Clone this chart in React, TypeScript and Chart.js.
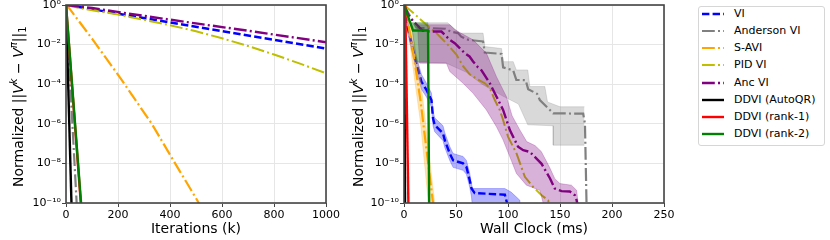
import React, { useEffect, useRef } from "react";
import { Chart, registerables } from "chart.js";

Chart.register(...registerables);

const FONT = '"DejaVu Sans", sans-serif';

// ---------------- axes / ticks ----------------
const yTickExponents = [-10, -8, -6, -4, -2, 0];
const iterationTicks = [0, 200, 400, 600, 800, 1000];
const wallClockTicks = [0, 50, 100, 150, 200, 250];

// ---------------- legend ----------------
const seriesNames = [
  "VI",
  "Anderson VI",
  "S-AVI",
  "PID VI",
  "Anc VI",
  "DDVI (AutoQR)",
  "DDVI (rank-1)",
  "DDVI (rank-2)",
];

// ---------------- left panel: log10(error) vs iterations k ----------------
const iterViK = [0, 50, 200, 400, 600, 800, 1000];
const iterViLog = [0, -0.1, -0.44, -0.88, -1.32, -1.76, -2.2];
const iterAndersonK = [0, 41];
const iterAndersonLog = [0, -10];
const iterSaviK = [0, 10, 100, 214, 330, 413, 511];
const iterSaviLog = [0, -0.12, -1.7, -3.78, -6.0, -7.85, -10];
const iterPidK = [0, 50, 100, 200, 300, 400, 500, 600, 700, 800, 900, 1000];
const iterPidLog = [0, -0.15, -0.27, -0.48, -0.75, -1.02, -1.33, -1.68, -2.07, -2.5, -2.96, -3.45];
const iterAncK = [0, 100, 300, 500, 700, 1000];
const iterAncLog = [0, -0.15, -0.55, -0.93, -1.3, -1.88];
const iterAutoQrK = [0, 21];
const iterAutoQrLog = [0, -10];
const iterRank1K = [0, 57];
const iterRank1Log = [0, -10];
const iterRank2K = [0, 58];
const iterRank2Log = [0, -10];

// ---------------- right panel: log10(error) vs wall clock (ms) ----------------
const clockViMs = [0, 2.3, 7.1, 11.9, 16.7, 21.6, 26.4, 27.9, 29.5, 37.5, 39.2, 44, 47.2, 56.8, 60, 63.2, 64.9, 68, 97, 100.5];
const clockViLog = [0, -0.8, -1.93, -2.94, -3.87, -4.29, -4.8, -5.72, -6.06, -6.48, -6.82, -7.5, -7.84, -8.0, -8.18, -8.85, -9.27, -9.5, -9.58, -10.3];
const clockViHiMs = [0, 2.3, 7.1, 11.9, 16.7, 21.6, 26.4, 27.9, 29.5, 37.5, 39.2, 44, 47.2, 56.8, 60, 63.2, 65.5, 66.5, 97, 103, 111.4, 112];
const clockViHiLog = [0, -0.5, -1.6, -2.6, -3.5, -3.95, -4.45, -5.35, -5.7, -6.1, -6.45, -7.15, -7.5, -7.65, -7.85, -8.5, -9.2, -9.27, -9.27, -9.45, -9.86, -10.3];
const clockViLoMs = [0, 2.3, 7.1, 11.9, 16.7, 21.6, 26.4, 27.9, 29.5, 37.5, 39.2, 44, 47.2, 56.8, 60, 63.2, 64.9, 66, 112];
const clockViLoLog = [0, -1.1, -2.25, -3.3, -4.25, -4.65, -5.15, -6.1, -6.4, -6.85, -7.2, -7.85, -8.2, -8.35, -8.55, -9.2, -9.7, -10.3, -10.3];

const clockAndersonMs = [0, 12, 40, 45, 52, 55, 62, 76, 77.7, 93.8, 95.3, 105, 108, 117, 119.4, 128, 130.6, 140.3, 143.4, 172.3, 174, 175.6];
const clockAndersonLog = [0, -1.15, -1.2, -1.35, -1.42, -1.6, -1.76, -1.84, -2.4, -2.47, -3.15, -3.3, -3.78, -3.8, -4.25, -4.49, -4.8, -5.3, -5.47, -5.49, -6.0, -10.3];
const clockAndersonHiMs = [7, 42, 53.6, 76, 77.7, 93.8, 95.3, 105, 108, 119, 121, 135.4, 138, 150, 173.5];
const clockAndersonHiLog = [-0.9, -0.9, -1.42, -1.42, -2.1, -2.2, -2.86, -2.86, -3.28, -3.28, -4.12, -4.12, -4.9, -5.14, -5.14];
const clockAndersonLoMs = [7, 12, 40.8, 60, 75, 95, 110, 119, 143.4, 143.5, 173.5];
const clockAndersonLoLog = [-0.9, -2.9, -2.94, -3.4, -4.0, -4.6, -5.0, -6.05, -6.1, -7.08, -7.08];

const clockSaviMs = [0, 3, 10.3, 15.8, 27.9, 28.6];
const clockSaviLog = [0, -0.6, -2.9, -4.8, -10, -10.3];
const clockSaviHiMs = [0, 3, 10.3, 15.8, 29.5, 30];
const clockSaviHiLog = [0, -0.3, -2.0, -3.7, -10, -10.3];
const clockSaviLoMs = [0, 3, 10.3, 15.8, 23.5, 24, 30];
const clockSaviLoLog = [0, -0.9, -3.8, -5.9, -10, -10.3, -10.3];

const clockPidMs = [0, 10, 21.6, 31.2, 42, 50.4, 57, 63.2, 69.7, 77.7, 82.5, 87.3, 92.1, 95.3, 100.1, 108.2, 116.2, 124.2, 132.3, 138.6, 140.5];
const clockPidLog = [0, -0.45, -1.0, -1.42, -2.0, -2.5, -3.1, -3.5, -3.72, -3.95, -4.2, -4.8, -5.3, -5.81, -6.66, -7.5, -8.68, -9.19, -9.61, -9.86, -10.3];

const clockAncMs = [0, 5, 18, 24.7, 36, 44, 48.8, 53.6, 58.4, 63, 66.4, 71.2, 74.5, 82.5, 89, 95.3, 101.8, 109.7, 114.6, 121, 125.8, 132.3, 140.3, 145, 151.5, 159.5, 164.3, 166, 167.5];
const clockAncLog = [0, -0.6, -1.3, -1.34, -1.34, -1.76, -1.93, -2.18, -2.43, -2.6, -2.85, -3.15, -3.3, -3.95, -4.63, -5.3, -6.32, -7.16, -7.33, -7.42, -7.67, -8.02, -8.75, -9.27, -9.4, -9.42, -9.61, -9.86, -10.3];
const clockAncHiMs = [13, 44, 48.8, 66.4, 79.2, 88.9, 98.5, 104, 111.3, 118, 126, 132, 140, 145, 150, 161, 166, 167.4, 168];
const clockAncHiLog = [-1.0, -1.0, -1.25, -1.76, -2.43, -3.62, -4.63, -5.6, -6.3, -6.9, -7.1, -7.4, -8.2, -8.77, -9.02, -9.1, -9.36, -10, -10.3];
const clockAncLoMs = [13, 15, 40.8, 44, 56.8, 66.4, 79.2, 88.9, 95.3, 101.8, 108.1, 117.7, 130.6, 133.8, 134.3, 168];
const clockAncLoLog = [-1.0, -2.94, -2.94, -3.36, -3.95, -4.46, -5.3, -6.15, -6.82, -7.67, -8.51, -9.1, -9.36, -10, -10.3, -10.3];

const clockAutoQrMs = [0.2, 1.0];
const clockAutoQrLog = [0, -10.3];
const clockRank1Ms = [1.2, 4.3];
const clockRank1Log = [0, -10.3];
const clockRank2Ms = [0, 8.7, 23.1, 24.2];
const clockRank2Log = [0, -1.29, -1.29, -10.3];
const clockRank2HiMs = [7, 23.1, 24.2];
const clockRank2HiLog = [-0.9, -0.9, -10.3];
const clockRank2LoMs = [7, 12, 23.1, 24.2];
const clockRank2LoLog = [-0.9, -2.86, -2.86, -10.3];

// ---------------- styles ----------------
const DASHED = [7.4, 3.2];
const DASHDOT = [12.8, 3.2, 2, 3.2];
const styles = [
  { color: "#0000ff", dash: DASHED, width: 2.4, band: "rgba(0,0,255,0.3)" },
  { color: "#808080", dash: DASHDOT, width: 2.2, band: "rgba(128,128,128,0.3)" },
  { color: "#ffa500", dash: DASHDOT, width: 2.2, band: "rgba(255,165,0,0.3)" },
  { color: "#bfbf00", dash: DASHDOT, width: 2.0, band: "rgba(191,191,0,0.3)" },
  { color: "#800080", dash: DASHDOT, width: 2.4, band: "rgba(128,0,128,0.3)" },
  { color: "#000000", dash: [] as number[], width: 2.4, band: "rgba(0,0,0,0.3)" },
  { color: "#ff0000", dash: [] as number[], width: 2.4, band: "rgba(255,0,0,0.3)" },
  { color: "#008000", dash: [] as number[], width: 2.4, band: "rgba(0,128,0,0.3)" },
];

const SUP: Record<string, string> = {
  "0": "\u2070", "1": "\u00b9", "2": "\u00b2", "3": "\u00b3", "4": "\u2074",
  "5": "\u2075", "6": "\u2076", "7": "\u2077", "8": "\u2078", "9": "\u2079", "-": "\u207b",
};
const supStr = (n: number) => String(n).split("").map((c) => SUP[c] || c).join("");

function toPoints(xs: number[], logs: number[]) {
  return xs.map((x, i) => ({ x, y: Math.pow(10, logs[i]) }));
}

function addLine(list: any[], xs: number[], logs: number[], s: number) {
  const st = styles[s];
  list.push({
    data: toPoints(xs, logs),
    borderColor: st.color,
    borderWidth: st.width,
    borderDash: st.dash,
    pointRadius: 0,
    fill: false,
    tension: 0,
  });
}

function addBand(list: any[], hx: number[], hl: number[], lx: number[], ll: number[], s: number) {
  const st = styles[s];
  const idx = list.length;
  list.push({
    data: toPoints(hx, hl),
    borderColor: st.band,
    borderWidth: 0.8,
    pointRadius: 0,
    backgroundColor: st.band,
    fill: idx + 1,
    tension: 0,
  });
  list.push({
    data: toPoints(lx, ll),
    borderColor: st.band,
    borderWidth: 0.8,
    pointRadius: 0,
    fill: false,
    tension: 0,
  });
}

function finalize(list: any[]) {
  list.forEach((d, i) => (d.order = list.length - i));
  return list;
}

function leftDatasets() {
  const l: any[] = [];
  addLine(l, iterViK, iterViLog, 0);
  addLine(l, iterAndersonK, iterAndersonLog, 1);
  addLine(l, iterSaviK, iterSaviLog, 2);
  addLine(l, iterPidK, iterPidLog, 3);
  addLine(l, iterAncK, iterAncLog, 4);
  addLine(l, iterAutoQrK, iterAutoQrLog, 5);
  addLine(l, iterRank1K, iterRank1Log, 6);
  addLine(l, iterRank2K, iterRank2Log, 7);
  return finalize(l);
}

function rightDatasets() {
  const l: any[] = [];
  addBand(l, clockViHiMs, clockViHiLog, clockViLoMs, clockViLoLog, 0);
  addLine(l, clockViMs, clockViLog, 0);
  addBand(l, clockAndersonHiMs, clockAndersonHiLog, clockAndersonLoMs, clockAndersonLoLog, 1);
  addLine(l, clockAndersonMs, clockAndersonLog, 1);
  addBand(l, clockSaviHiMs, clockSaviHiLog, clockSaviLoMs, clockSaviLoLog, 2);
  addLine(l, clockSaviMs, clockSaviLog, 2);
  addLine(l, clockPidMs, clockPidLog, 3);
  addBand(l, clockAncHiMs, clockAncHiLog, clockAncLoMs, clockAncLoLog, 4);
  addLine(l, clockAncMs, clockAncLog, 4);
  addLine(l, clockAutoQrMs, clockAutoQrLog, 5);
  addLine(l, clockRank1Ms, clockRank1Log, 6);
  addBand(l, clockRank2HiMs, clockRank2HiLog, clockRank2LoMs, clockRank2LoLog, 7);
  addLine(l, clockRank2Ms, clockRank2Log, 7);
  return finalize(l);
}

function drawYTitle(ctx: CanvasRenderingContext2D, baseX: number, startY: number) {
  const normal = `14px ${FONT}`;
  const italic = `italic 14px ${FONT}`;
  const small = `10px ${FONT}`;
  const smallIt = `italic 10px ${FONT}`;
  const segs = [
    { t: "Normalized ", f: normal, dy: 0 },
    { t: "||", f: normal, dy: 0 },
    { t: "V", f: italic, dy: 0 },
    { t: "k", f: smallIt, dy: -6 },
    { t: " \u2212 ", f: normal, dy: 0 },
    { t: "V", f: italic, dy: 0 },
    { t: "\u03c0", f: smallIt, dy: -6 },
    { t: "||", f: normal, dy: 0 },
    { t: "1", f: small, dy: 3 },
  ];
  ctx.save();
  ctx.translate(baseX, startY);
  ctx.rotate(-Math.PI / 2);
  ctx.fillStyle = "#000";
  ctx.textBaseline = "alphabetic";
  ctx.textAlign = "left";
  let x = 0;
  for (const s of segs) {
    ctx.font = s.f;
    ctx.fillText(s.t, x, s.dy);
    x += ctx.measureText(s.t).width;
  }
  ctx.restore();
}

function decorPlugin(xTitle: string) {
  return {
    id: "decor",
    afterDraw(chart: any) {
      const { ctx, chartArea } = chart;
      const { left, right, top, bottom } = chartArea;
      ctx.save();
      ctx.strokeStyle = "#444";
      ctx.lineWidth = 1.6;
      ctx.strokeRect(left, top, right - left, bottom - top);
      ctx.fillStyle = "#000";
      ctx.font = `14px ${FONT}`;
      ctx.textAlign = "center";
      ctx.textBaseline = "alphabetic";
      ctx.fillText(xTitle, (left + right) / 2, 233);
      ctx.restore();
      drawYTitle(ctx, 22.5, 187);
    },
  };
}

function makeConfig(datasets: any[], xMax: number, xTicks: number[], yWidth: number, padRight: number, xTitle: string) {
  const grid = { color: "#e6e6e6", lineWidth: 1, tickColor: "#444", tickLength: 4, drawTicks: true };
  const tickFont = { family: FONT, size: 11 };
  return {
    type: "line",
    data: { datasets },
    options: {
      animation: false,
      responsive: false,
      devicePixelRatio: 1,
      events: [],
      layout: { padding: { left: 0, right: padRight, top: 5, bottom: 0 } },
      plugins: { legend: { display: false }, tooltip: { enabled: false } },
      scales: {
        x: {
          type: "linear",
          min: 0,
          max: xMax,
          afterBuildTicks: (s: any) => {
            s.ticks = xTicks.map((v) => ({ value: v }));
          },
          ticks: { autoSkip: false, maxRotation: 0, padding: 2, color: "#000", font: tickFont, callback: (v: any) => String(v) },
          grid,
          border: { display: false },
          afterFit: (s: any) => {
            s.height = 37;
            s.paddingLeft = 0;
            s.paddingRight = 0;
          },
        },
        y: {
          type: "logarithmic",
          min: 1e-10,
          max: 1,
          afterBuildTicks: (s: any) => {
            s.ticks = yTickExponents.map((e) => ({ value: Math.pow(10, e) }));
          },
          ticks: {
            autoSkip: false,
            padding: 1,
            color: "#000",
            font: tickFont,
            callback: (v: any) => "10" + supStr(Math.round(Math.log10(Number(v)))),
          },
          grid,
          border: { display: false },
          afterFit: (s: any) => {
            s.width = yWidth;
            s.paddingTop = 0;
            s.paddingBottom = 0;
          },
        },
      },
    },
    plugins: [decorPlugin(xTitle)],
  };
}

function Legend() {
  return (
    <div
      style={{
        position: "absolute",
        left: 697.5,
        top: 5.5,
        width: 127,
        height: 140,
        border: "1px solid #d6d6d6",
        borderRadius: 3,
        background: "#fff",
        boxSizing: "border-box",
        fontFamily: FONT,
        fontSize: 11,
        color: "#000",
      }}
    >
      {seriesNames.map((name, i) => {
        const st = styles[i];
        return (
          <div key={name} style={{ position: "absolute", left: 0, top: 0.5 + i * 17.14, height: 14, width: 120 }}>
            <svg width={22} height={14} style={{ position: "absolute", left: 3.2, top: 0 }}>
              <line
                x1={0}
                y1={7}
                x2={22}
                y2={7}
                stroke={st.color}
                strokeWidth={st.width}
                strokeDasharray={st.dash.length ? st.dash.join(" ") : undefined}
              />
            </svg>
            <span style={{ position: "absolute", left: 35.5, top: 0, lineHeight: "14px", whiteSpace: "nowrap" }}>{name}</span>
          </div>
        );
      })}
    </div>
  );
}

export default function App() {
  const leftRef = useRef<HTMLCanvasElement>(null);
  const rightRef = useRef<HTMLCanvasElement>(null);

  useEffect(() => {
    Chart.defaults.font.family = FONT;
    const c1 = new Chart(leftRef.current as any, makeConfig(leftDatasets(), 1000, iterationTicks, 66, 14, "Iterations (k)") as any);
    const c2 = new Chart(rightRef.current as any, makeConfig(rightDatasets(), 250, wallClockTicks, 64, 16, "Wall Clock (ms)") as any);
    return () => {
      c1.destroy();
      c2.destroy();
    };
  }, []);

  return (
    <div style={{ position: "absolute", left: 0, top: 0, width: 830, height: 240, background: "#fff", overflow: "hidden" }}>
      <canvas ref={leftRef} width={340} height={240} style={{ position: "absolute", left: 0, top: 0, width: 340, height: 240 }} />
      <canvas ref={rightRef} width={340} height={240} style={{ position: "absolute", left: 340, top: 0, width: 340, height: 240 }} />
      <Legend />
    </div>
  );
}
